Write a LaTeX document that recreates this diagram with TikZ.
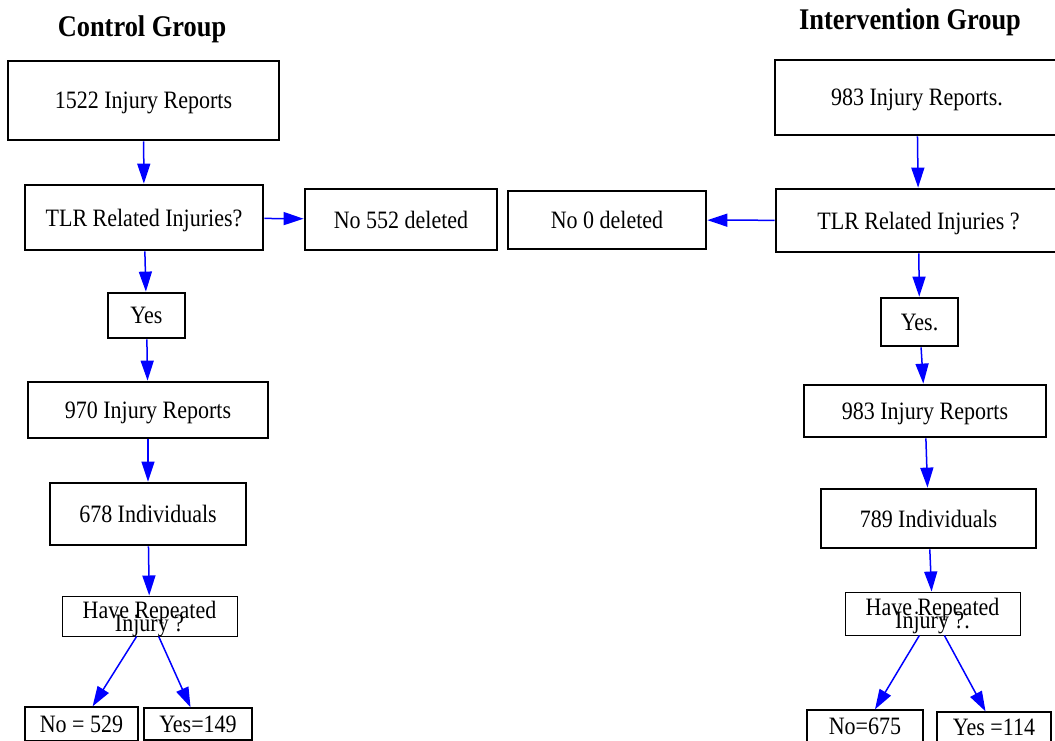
\documentclass[tikz,border=0pt]{standalone}
\usepackage{fontspec}
\setmainfont{Liberation Serif}[FakeStretch=0.88]
\usetikzlibrary{arrows.meta}

\begin{document}
\begin{tikzpicture}[x=1pt,y=-1pt,
	box/.style={draw,line width=2.8pt,inner sep=0pt,text depth=0pt,font=\fontsize{25}{28}\selectfont},
	qbox/.style={draw,line width=1pt,inner sep=0pt,align=center,text depth=0pt,font=\fontsize{25}{27}\selectfont},
	endbox/.style={draw,line width=1.3pt,inner sep=0pt,text depth=0pt,font=\fontsize{25}{28}\selectfont},
	title/.style={font=\fontsize{30}{33}\selectfont\bfseries},
	arr/.style={->,>={Triangle[length=20pt,width=13pt]},blue,line width=1.5pt}]
		\useasboundingbox (0,0) rectangle (1055,740);
		\clip (0,0) rectangle (1055,740);
		% 対照群
		\node[title] (tc) at (142,29) {Control Group};
		\node[box,minimum width=271,minimum height=79] (c1) at (143.5,100.5) {1522 Injury Reports};
		\node[box,minimum width=238,minimum height=65] (c2) at (144,217.5) {TLR Related Injuries?};
		\node[box,minimum width=192,minimum height=61] (cn) at (401,219.5) {No 552 deleted}; %除外
		\node[box,minimum width=77,minimum height=45] (cy) at (146.5,315.5) {Yes};
		\node[box,minimum width=240,minimum height=56] (c3) at (148,410) {970 Injury Reports};
		\node[box,minimum width=196,minimum height=62] (c4) at (148,514) {678 Individuals};
		\node[qbox,minimum width=175,minimum height=40] (c5) at (149.5,616) {Have Repeated\\[-14pt]Injury ?};
		\node[endbox,minimum width=113,minimum height=34] (c6) at (81.5,724) {No = 529};
		\node[endbox,minimum width=108,minimum height=32] (c7) at (198,724) {Yes=149};
		% 介入群
		\node[title] (ti) at (910,22) {Intervention Group};
		\node[box,minimum width=284,minimum height=75] (i1) at (917,97.5) {983 Injury Reports.};
		\node[box,minimum width=285,minimum height=63] (i2) at (918.5,220.5) {TLR Related Injuries ?};
		\node[box,minimum width=198,minimum height=58] (in) at (607,220) {No 0 deleted}; %除外
		\node[box,minimum width=77,minimum height=48] (iy) at (919.5,322) {Yes.};
		\node[box,minimum width=242,minimum height=52] (i3) at (925,411) {983 Injury Reports};
		\node[box,minimum width=215,minimum height=59] (i4) at (928.5,518.5) {789 Individuals};
		\node[qbox,minimum width=175,minimum height=43] (i5) at (932.5,613.5) {Have Repeated\\[-14pt]Injury ?.};
		\node[endbox,minimum width=116,minimum height=32] (i6) at (865,726) {No=675};
		\node[endbox,minimum width=114,minimum height=30] (i7) at (994,727) {Yes =114};
		% 矢印
		\draw[arr] (c1)--(c2);
		\draw[arr] (c2)--(cn);
		\draw[arr] (c2)--(cy);
		\draw[arr] (cy)--(c3);
		\draw[arr] (c3)--(c4);
		\draw[arr] (c4)--(c5);
		\draw[arr] (c5)--(c6);
		\draw[arr] (c5)--(c7);
		\draw[arr] (i1)--(i2);
		\draw[arr] (i2)--(in);
		\draw[arr] (i2)--(iy);
		\draw[arr] (iy)--(i3);
		\draw[arr] (i3)--(i4);
		\draw[arr] (i4)--(i5);
		\draw[arr] (i5)--(i6);
		\draw[arr] (i5)--(i7);
	\end{tikzpicture}
\end{document}
